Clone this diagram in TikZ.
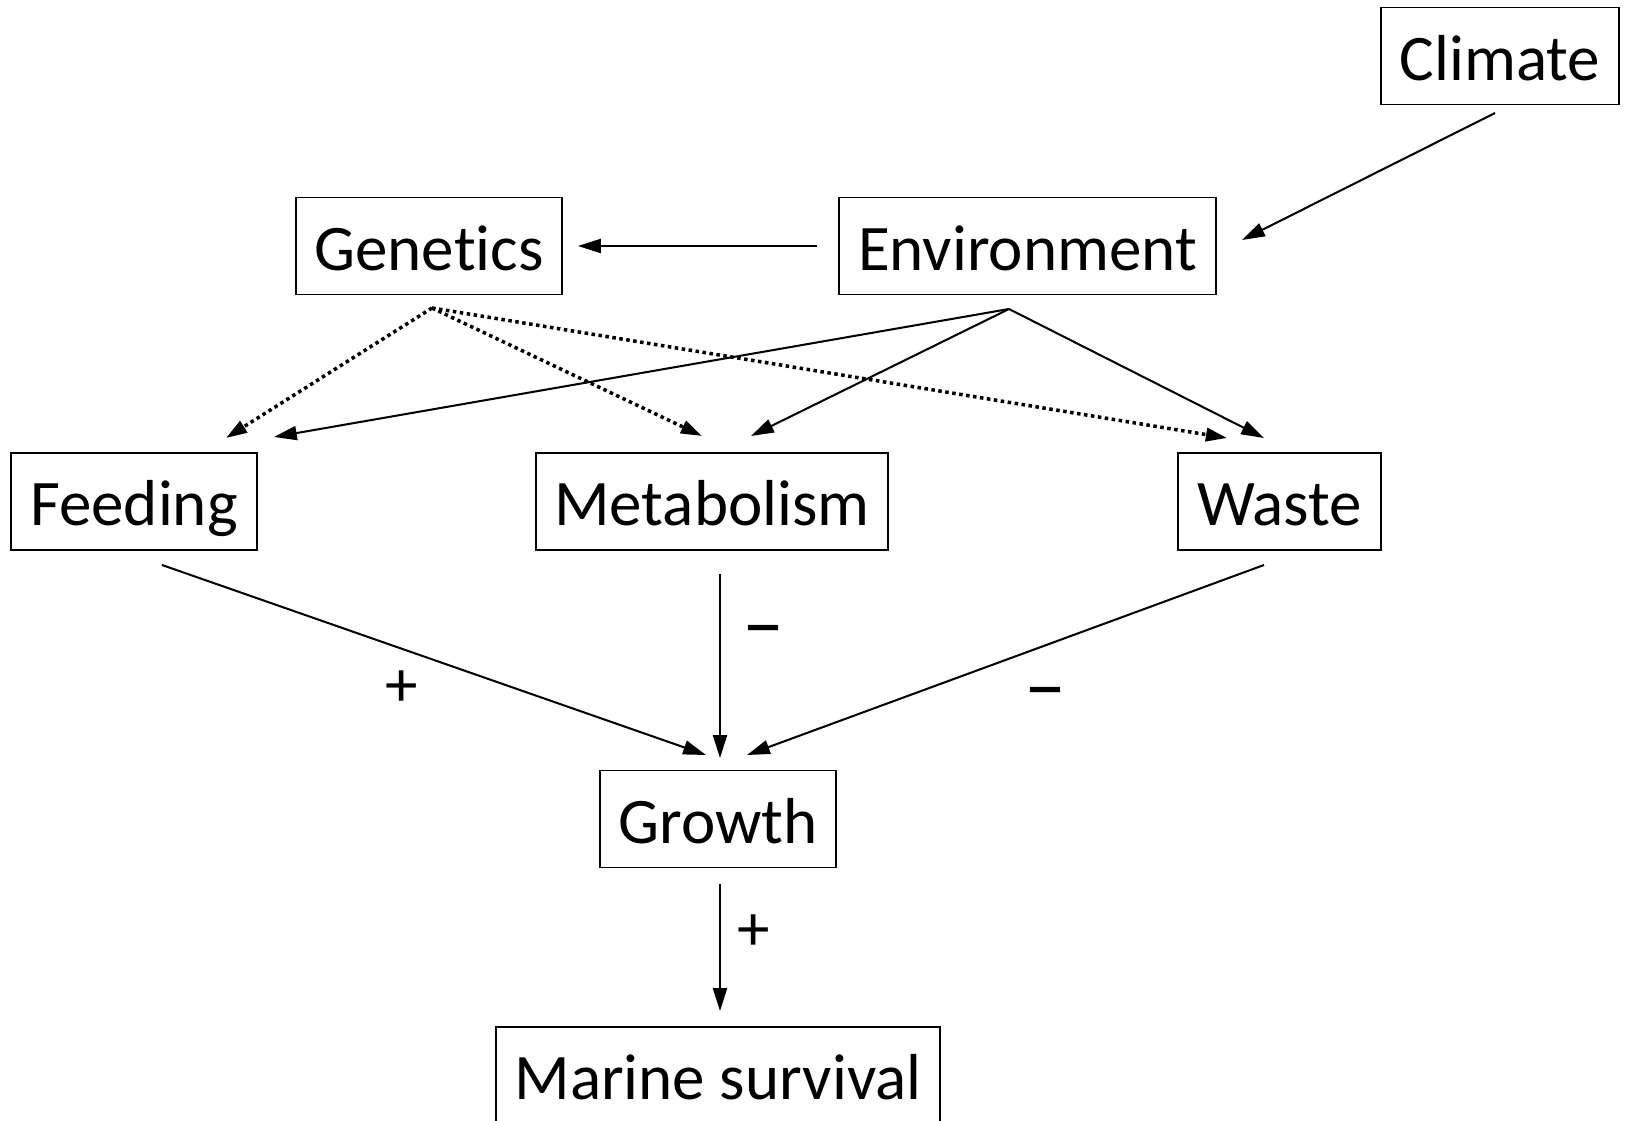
\documentclass[tikz,border=0pt]{standalone}
\usepackage{fontspec}
\setmainfont{Carlito}[Ligatures={NoCommon}]
\usetikzlibrary{arrows.meta}
\begin{document}
\begin{tikzpicture}[x=0.02cm,y=-0.02cm,
  box/.style={draw,line width=1.1pt,inner sep=0pt,minimum height=1.94cm,
    text height=27.4pt,text depth=0pt,font=\fontsize{37}{44}\selectfont},
  conn/.style={line width=1.15pt,-{Triangle[length=13pt,width=8pt]}},
  dotconn/.style={line width=2pt,dash pattern=on 2pt off 2pt,-{Triangle[length=12pt,width=7.5pt,sep=0pt]}},
  sign/.style={font=\fontsize{37}{44}\selectfont,inner sep=0pt,anchor=base},
  minus/.style={font=\fontsize{48}{56}\selectfont,inner sep=0pt,anchor=base}]
\useasboundingbox (0,0) rectangle (1627,1121);
\fill[white] (0,0) rectangle (1627,1121);
\node[box,minimum width=4.76cm] (cli) at (1500,56) {Climate};
\node[box,minimum width=5.32cm] (gen) at (429,246) {Genetics};
\node[box,minimum width=7.54cm] (env) at (1027.5,246) {Environment};
\node[box,minimum width=4.92cm] (fee) at (134,501.5) {Feeding};
\node[box,minimum width=7.04cm] (met) at (712,501.5) {Metabolism};
\node[box,minimum width=4.06cm] (was) at (1279.5,501.5) {Waste};
\node[box,minimum width=4.72cm] (gro) at (718,819) {Growth};
\node[box,minimum width=8.88cm] (mar) at (718,1075.5) {Marine survival};
% connector end points
\coordinate (cliS) at (1495,113);
\coordinate (envE) at (1242,240);
\coordinate (envW) at (817,246);
\coordinate (genE) at (578,246);
\coordinate (genS) at (432,308);
\coordinate (envS) at (1009,309);
\coordinate (feeNd) at (226,438);
\coordinate (metNd) at (702,436);
\coordinate (wasNd) at (1227,438);
\coordinate (feeNs) at (274,437);
\coordinate (metNs) at (751,436);
\coordinate (wasNs) at (1264,438);
\coordinate (feeS) at (162,565);
\coordinate (metS) at (720,574);
\coordinate (wasS) at (1264,565);
\coordinate (groNW) at (706,755);
\coordinate (groN) at (720,758);
\coordinate (groNE) at (747,755);
\coordinate (groS) at (720,884);
\coordinate (marN) at (720,1011);
\draw[conn] (cliS) -- (envE);
\draw[conn] (envW) -- (genE);
\draw[dotconn] (genS) -- (feeNd);
\draw[dotconn] (genS) -- (metNd);
\draw[dotconn] (genS) -- (wasNd);
\draw[conn] (envS) -- (feeNs);
\draw[conn] (envS) -- (metNs);
\draw[conn] (envS) -- (wasNs);
\draw[conn] (feeS) -- (groNW);
\draw[conn] (metS) -- (groN);
\draw[conn] (wasS) -- (groNE);
\draw[conn] (groS) -- (marN);
\node[sign] (s1) at (402,706) {+};
\node[minus] (s2) at (763,652) {–};
\node[minus] (s3) at (1045,714) {–};
\node[sign] (s4) at (754,950) {+};
\end{tikzpicture}
\end{document}
